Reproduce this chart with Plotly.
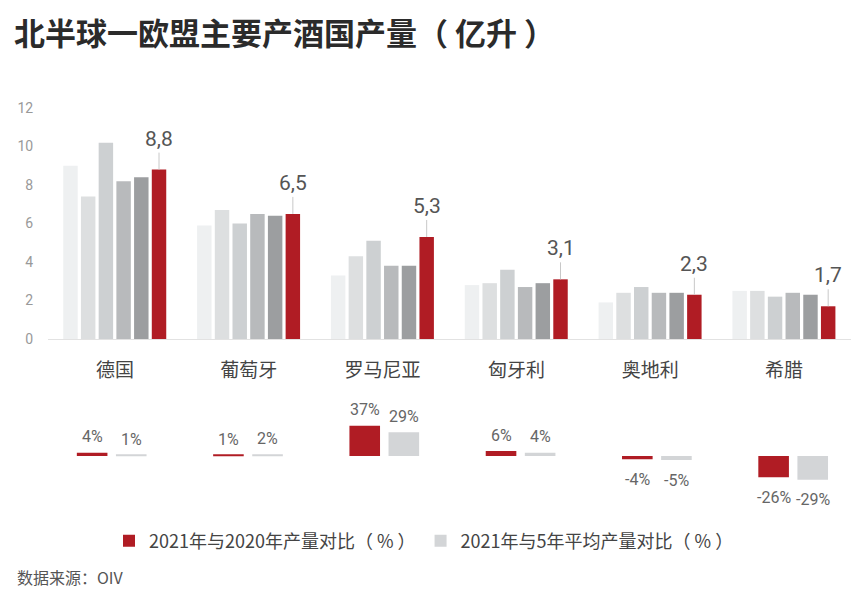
import plotly.graph_objects as go

VW, VH = 859, 591
OX, OY = 8, 8          # page body margin
W, H = VW - OX, VH - OY

countries = ["德国", "葡萄牙", "罗马尼亚", "匈牙利", "奥地利", "希腊"]
years = ["2016", "2017", "2018", "2019", "2020", "2021"]
prod_2016 = [9.0, 5.9, 3.3, 2.8, 1.9, 2.5]
prod_2017 = [7.4, 6.7, 4.3, 2.9, 2.4, 2.5]
prod_2018 = [10.2, 6.0, 5.1, 3.6, 2.7, 2.2]
prod_2019 = [8.2, 6.5, 3.8, 2.7, 2.4, 2.4]
prod_2020 = [8.4, 6.4, 3.8, 2.9, 2.4, 2.3]
prod_2021 = [8.8, 6.5, 5.3, 3.1, 2.3, 1.7]
value_labels = ["8,8", "6,5", "5,3", "3,1", "2,3", "1,7"]
vs_2020 = [4, 1, 37, 6, -4, -26]
vs_5yr = [1, 2, 29, 4, -5, -29]
y_ticks = [0, 2, 4, 6, 8, 10, 12]

series = [prod_2016, prod_2017, prod_2018, prod_2019, prod_2020, prod_2021]
colors = ["#eef0f1", "#dddfe0", "#cdd0d2", "#b8babc", "#9c9ea0", "#b01c24"]
RED = "#b01c24"
LGRAY = "#d3d5d7"

def px(x):
    return (x - OX) / W

def py(y):
    return 1 - (y - OY) / H

NUM = "Roboto, Liberation Sans Narrow, sans-serif"
CJK = "Noto Sans CJK SC, sans-serif"

fig = go.Figure()

bw = 0.108
pitch = 0.1323
off0 = -0.386
for i, (yr, vals, c) in enumerate(zip(years, series, colors)):
    fig.add_trace(go.Bar(
        x=countries, y=vals, name=yr, marker=dict(color=c, line=dict(width=0)),
        width=bw, offset=off0 + i * pitch, showlegend=False,
        xaxis="x", yaxis="y", hoverinfo="x+y+name"))

# lower percent bars
lw = 0.2245
red_off = -0.2557
gray_off = 0.0312
fig.add_trace(go.Bar(
    x=countries, y=vs_2020, name="2021年与2020年产量对比（ % ）",
    marker=dict(color=RED, line=dict(width=0)), width=lw, offset=red_off,
    xaxis="x2", yaxis="y2", legendrank=1))
fig.add_trace(go.Bar(
    x=countries, y=vs_5yr, name="2021年与5年平均产量对比（ % ）",
    marker=dict(color=LGRAY, line=dict(width=0)), width=lw, offset=gray_off,
    xaxis="x2", yaxis="y2", legendrank=2))

annotations = []
red_center = off0 + 5 * pitch + bw / 2
for i, (v, lab) in enumerate(zip(prod_2021, value_labels)):
    annotations.append(dict(
        x=i + red_center, y=v, xref="x", yref="y", text=lab,
        showarrow=True, arrowhead=0, arrowwidth=1, arrowcolor="#c8c8c8",
        ax=0, ay=-17, standoff=0, yanchor="bottom",
        font=dict(family=NUM, size=21, color="#555555")))

for vals, off in ((vs_2020, red_off), (vs_5yr, gray_off)):
    for i, v in enumerate(vals):
        annotations.append(dict(
            x=i + off + lw / 2, y=v, xref="x2", yref="y2", text=f"{v}%",
            showarrow=False, yshift=16 if v >= 0 else -20,
            font=dict(family=NUM, size=16, color="#666666")))

annotations.append(dict(
    x=px(13), y=py(8), xref="paper", yref="paper", xanchor="left", yanchor="top",
    text="<b>北半球一欧盟主要产酒国产量（ 亿升 ）</b>", showarrow=False,
    borderpad=0, font=dict(family=CJK, size=31, color="#2b2b2b")))
annotations.append(dict(
    x=px(15), y=py(577), xref="paper", yref="paper", xanchor="left", yanchor="middle",
    text="数据来源：OIV", showarrow=False,
    font=dict(family=CJK, size=16, color="#555555")))

fig.update_layout(
    width=W, height=H,
    margin=dict(l=0, r=0, t=0, b=0),
    paper_bgcolor="white", plot_bgcolor="white",
    barmode="overlay",
    showlegend=True,
    legend=dict(orientation="h", x=px(109), y=py(541), xanchor="left", yanchor="middle",
                font=dict(family=CJK, size=18, color="#444444"),
                itemwidth=30, tracegroupgap=0, bgcolor="rgba(0,0,0,0)"),
    xaxis=dict(domain=[px(48), px(851)], range=[-0.5, 5.5], type="category",
               showline=True, linecolor="#e2e2e2", linewidth=1,
               showgrid=False, zeroline=False,
               ticks="outside", ticklen=14, tickcolor="rgba(0,0,0,0)",
               tickfont=dict(family=CJK, size=19, color="#444444"),
               anchor="y", automargin=False, fixedrange=True),
    yaxis=dict(domain=[py(339), py(108)], range=[0, 12], tickvals=y_ticks,
               showgrid=False, zeroline=False, showline=False,
               ticks="outside", ticklen=11, tickcolor="rgba(0,0,0,0)",
               tickfont=dict(family=NUM, size=14, color="#999999"),
               anchor="x", automargin=False, fixedrange=True),
    xaxis2=dict(domain=[px(40), px(859)], range=[-0.526, 5.483], type="category",
                visible=False, anchor="y2", fixedrange=True),
    yaxis2=dict(domain=[py(488.8), py(423.2)], range=[-40, 40],
                visible=False, anchor="x2", fixedrange=True),
    annotations=annotations,
)

fig.write_html("out.html")
